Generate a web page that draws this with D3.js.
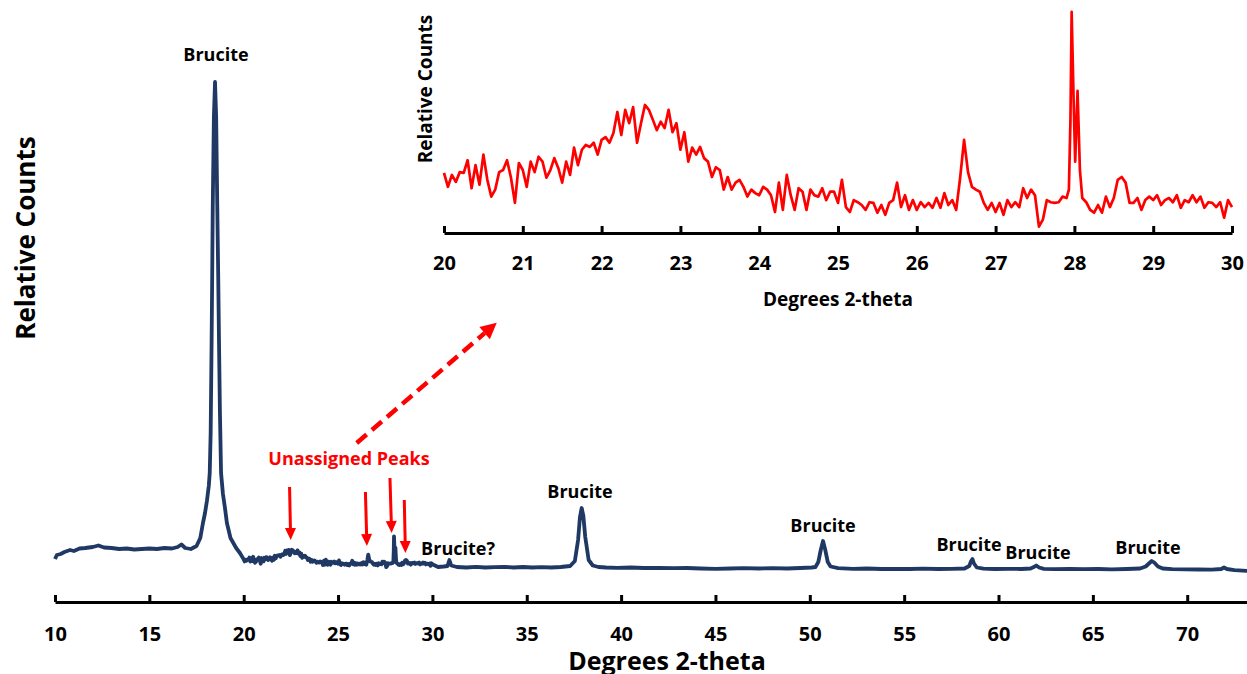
<!DOCTYPE html>
<html>
<head>
<meta charset="utf-8">
<script src="https://cdn.jsdelivr.net/npm/d3@7"></script>
<style>
  body { margin: 0; background: #fff; }
  text { font-family: "Open Sans", sans-serif; font-weight: bold; }
</style>
</head>
<body>
<svg id="chart"></svg>
<script>
// tick labels
const xTicks = [10, 15, 20, 25, 30, 35, 40, 45, 50, 55, 60, 65, 70];
const insetTicks = [20, 21, 22, 23, 24, 25, 26, 27, 28, 29, 30];

// scan below 20 deg: [2-theta, counts]
const scanLow = [
  [10.0, 430], [10.1, 470], [10.3, 480], [10.5, 500], [10.8, 520], [11.0, 510], [11.3, 535],
  [11.6, 540], [12.0, 550], [12.3, 565], [12.6, 545], [13.0, 540], [13.4, 530], [13.8, 535],
  [14.2, 525], [14.6, 530], [15.0, 535], [15.4, 530], [15.8, 540], [16.2, 535], [16.5, 550],
  [16.7, 575], [16.9, 540], [17.2, 530], [17.5, 560], [17.7, 640], [17.84, 790], [17.95, 890],
  [18.05, 1010], [18.15, 1160], [18.2, 1290], [18.25, 1700], [18.3, 2620], [18.33, 3250],
  [18.36, 3950], [18.42, 4850], [18.48, 5200], [18.54, 4850], [18.6, 3950], [18.65, 3250],
  [18.69, 2620], [18.74, 1900], [18.8, 1290], [18.9, 1080], [19.0, 950], [19.11, 790],
  [19.3, 640], [19.6, 540], [19.8, 490]
];

// 20-30 deg, also shown in the inset
const scanDetail = [
  [20.00, 426], [20.05, 406], [20.10, 423], [20.15, 413], [20.20, 427], [20.25, 426], [20.30, 444],
  [20.35, 404], [20.40, 437], [20.45, 409], [20.50, 452], [20.55, 416], [20.60, 392], [20.65, 402],
  [20.70, 427], [20.75, 430], [20.80, 444], [20.85, 419], [20.90, 383], [20.95, 440], [21.00, 430],
  [21.05, 406], [21.10, 442], [21.15, 427], [21.20, 449], [21.25, 442], [21.30, 419], [21.35, 430],
  [21.40, 447], [21.45, 433], [21.50, 412], [21.55, 442], [21.60, 423], [21.65, 462], [21.70, 437],
  [21.75, 459], [21.80, 466], [21.85, 463], [21.90, 469], [21.95, 452], [22.00, 473], [22.05, 477],
  [22.10, 469], [22.15, 483], [22.20, 513], [22.25, 480], [22.30, 516], [22.35, 497], [22.40, 520],
  [22.45, 469], [22.50, 497], [22.55, 523], [22.60, 516], [22.65, 502], [22.70, 487], [22.75, 499],
  [22.80, 490], [22.85, 516], [22.90, 484], [22.95, 497], [23.00, 459], [23.05, 484], [23.10, 442],
  [23.15, 462], [23.20, 452], [23.25, 463], [23.30, 447], [23.35, 442], [23.40, 420], [23.45, 434],
  [23.50, 430], [23.55, 402], [23.60, 420], [23.65, 402], [23.70, 412], [23.75, 416], [23.80, 406],
  [23.85, 392], [23.90, 402], [23.95, 397], [24.00, 394], [24.05, 406], [24.10, 402], [24.15, 394],
  [24.20, 370], [24.25, 412], [24.30, 373], [24.35, 423], [24.40, 394], [24.45, 373], [24.50, 404],
  [24.55, 399], [24.60, 373], [24.65, 402], [24.70, 394], [24.75, 392], [24.80, 404], [24.85, 387],
  [24.90, 399], [24.95, 399], [25.00, 383], [25.05, 416], [25.10, 377], [25.15, 370], [25.20, 387],
  [25.25, 384], [25.30, 380], [25.35, 373], [25.40, 384], [25.45, 383], [25.50, 369], [25.55, 380],
  [25.60, 366], [25.65, 383], [25.70, 387], [25.75, 412], [25.80, 377], [25.85, 394], [25.90, 373],
  [25.95, 387], [26.00, 373], [26.05, 384], [26.10, 377], [26.15, 383], [26.20, 376], [26.25, 390],
  [26.30, 376], [26.35, 397], [26.40, 380], [26.45, 387], [26.50, 373], [26.55, 419], [26.60, 473],
  [26.65, 427], [26.70, 406], [26.75, 402], [26.80, 399], [26.85, 383], [26.90, 373], [26.95, 383],
  [27.00, 370], [27.05, 383], [27.10, 366], [27.15, 387], [27.20, 377], [27.25, 384], [27.30, 377],
  [27.35, 404], [27.40, 390], [27.45, 402], [27.50, 394], [27.55, 349], [27.60, 359], [27.65, 387],
  [27.70, 384], [27.75, 383], [27.80, 384], [27.85, 392], [27.90, 390], [27.93, 402], [27.95, 502],
  [27.965, 656], [27.99, 530], [28.01, 442], [28.04, 543], [28.07, 430], [28.10, 390], [28.15, 384],
  [28.20, 373], [28.25, 369], [28.30, 380], [28.35, 369], [28.40, 392], [28.45, 377], [28.50, 390],
  [28.55, 416], [28.60, 420], [28.65, 412], [28.70, 383], [28.75, 383], [28.80, 390], [28.85, 373],
  [28.90, 387], [28.95, 392], [29.00, 387], [29.05, 394], [29.10, 380], [29.15, 387], [29.20, 390],
  [29.25, 384], [29.30, 394], [29.35, 376], [29.40, 387], [29.45, 384], [29.50, 394], [29.55, 384],
  [29.60, 392], [29.65, 376], [29.70, 384], [29.75, 383], [29.80, 377], [29.85, 384], [29.90, 362],
  [29.95, 387], [30.00, 377]
];

// scan above 30 deg
const scanHigh = [
  [30.3, 350], [30.6, 355], [30.8, 360], [30.9, 420], [31.0, 365], [31.3, 350], [31.8, 345],
  [32.3, 352], [32.8, 345], [33.3, 348], [33.8, 352], [34.3, 345], [34.8, 350], [35.3, 345],
  [35.8, 348], [36.3, 345], [36.8, 350], [37.3, 360], [37.55, 410], [37.72, 620], [37.82, 850],
  [37.91, 940], [38.0, 860], [38.1, 650], [38.28, 420], [38.5, 365], [38.8, 350], [39.2, 345],
  [39.8, 342], [40.5, 345], [41.2, 340], [42.0, 342], [42.8, 338], [43.5, 340], [44.2, 335],
  [45.0, 332], [45.8, 335], [46.5, 338], [47.3, 335], [48.0, 338], [48.8, 335], [49.5, 340],
  [50.1, 345], [50.3, 350], [50.45, 400], [50.58, 520], [50.7, 610], [50.82, 520], [50.95, 400],
  [51.1, 355], [51.5, 338], [52.3, 332], [53.0, 335], [53.8, 330], [54.5, 332], [55.3, 330],
  [56.0, 333], [56.8, 330], [57.5, 332], [58.2, 335], [58.45, 360], [58.55, 410], [58.62, 430],
  [58.7, 385], [58.85, 345], [59.2, 333], [59.8, 330], [60.5, 332], [61.2, 330], [61.7, 335],
  [61.9, 352], [62.0, 365], [62.15, 345], [62.4, 332], [63.0, 328], [63.8, 330], [64.5, 328],
  [65.3, 330], [66.0, 327], [66.8, 330], [67.5, 335], [67.8, 355], [68.0, 390], [68.12, 410],
  [68.25, 395], [68.45, 355], [68.7, 335], [69.2, 328], [69.9, 326], [70.6, 325], [71.3, 323],
  [71.8, 330], [71.95, 345], [72.1, 330], [72.5, 318], [73.2, 310]
];

// peak labels
const labelText = ['Brucite', 'Brucite?', 'Brucite', 'Brucite', 'Brucite', 'Brucite', 'Brucite'];
const labelTheta = [18.53, 31.36, 37.82, 50.70, 58.44, 62.09, 67.92];
const labelCounts = [5410, 470, 1040, 700, 510, 430, 480];

// red arrows at the unassigned peaks: [theta, counts]
const arrowTail = [[22.43, 1150], [26.45, 1100], [27.75, 1240], [28.51, 1020]];
const arrowTip = [[22.49, 620], [26.53, 560], [27.84, 690], [28.57, 490]];

const W = 1247, H = 674;
const svg = d3.select('#chart').attr('width', W).attr('height', H);

const x = d3.scaleLinear().domain([10, 73.2]).range([55, 1247.6]);
const y = d3.scaleLinear().domain([0, 5200]).range([602, 82]);
const xi = d3.scaleLinear().domain([20, 30]).range([444, 1232]);
const yi = d3.scaleLinear().domain([340, 673]).range([233, 0]);

// main pattern
const line = d3.line().x(d => x(d[0])).y(d => y(d[1]));
svg.append('path')
  .datum(scanLow.concat(scanDetail, scanHigh))
  .attr('d', line)
  .attr('fill', 'none')
  .attr('stroke', '#1f3864')
  .attr('stroke-width', 3.8)
  .attr('stroke-linejoin', 'round');

// main x axis, ticks pointing up
const gx = svg.append('g')
  .attr('transform', 'translate(0,602)')
  .call(d3.axisBottom(x).tickValues(xTicks).tickSizeInner(-7).tickSizeOuter(0));
gx.select('.domain').attr('stroke', '#000').attr('stroke-width', 3);
gx.selectAll('.tick line').attr('stroke', '#000').attr('stroke-width', 3);
gx.selectAll('.tick text')
  .attr('y', 39).attr('dy', null)
  .attr('fill', '#000')
  .style('font-size', '20px');

svg.append('text')
  .attr('x', 667).attr('y', 670)
  .attr('text-anchor', 'middle')
  .style('font-size', '25px')
  .text('Degrees 2-theta');

svg.append('text')
  .attr('transform', 'translate(35,238) rotate(-90)')
  .attr('text-anchor', 'middle')
  .style('font-size', '26px')
  .text('Relative Counts');

// labels
svg.selectAll('.peak-label')
  .data(labelText)
  .join('text')
  .attr('class', 'peak-label')
  .attr('x', (d, i) => x(labelTheta[i]))
  .attr('y', (d, i) => y(labelCounts[i]))
  .attr('text-anchor', 'middle')
  .style('font-size', '18px')
  .text(d => d);

svg.append('text')
  .attr('x', x(25.58)).attr('y', y(1370))
  .attr('text-anchor', 'middle')
  .attr('fill', '#ff0000')
  .style('font-size', '18px')
  .text('Unassigned Peaks');

function arrow(x1, y1, x2, y2, len, half, width, dash) {
  const a = Math.atan2(y2 - y1, x2 - x1);
  const bx = x2 - len * Math.cos(a), by = y2 - len * Math.sin(a);
  svg.append('line')
    .attr('x1', x1).attr('y1', y1).attr('x2', bx).attr('y2', by)
    .attr('stroke', '#ff0000').attr('stroke-width', width)
    .attr('stroke-dasharray', dash);
  const px = -Math.sin(a) * half, py = Math.cos(a) * half;
  svg.append('path')
    .attr('d', `M${x2},${y2}L${bx + px},${by + py}L${bx - px},${by - py}Z`)
    .attr('fill', '#ff0000');
}

arrowTail.forEach((t, i) => {
  const p = arrowTip[i];
  arrow(x(t[0]), y(t[1]), x(p[0]), y(p[1]), 12, 5.5, 3, null);
});

// dashed arrow pointing to the inset
arrow(x(25.99), y(1590), x(33.41), y(2793), 16, 8, 4.5, '13,7');

// inset
const insetLine = d3.line().x(d => xi(d[0])).y(d => yi(d[1]));
svg.append('path')
  .datum(scanDetail)
  .attr('d', insetLine)
  .attr('fill', 'none')
  .attr('stroke', '#ff0000')
  .attr('stroke-width', 2.7)
  .attr('stroke-linejoin', 'round');

const gi = svg.append('g')
  .attr('transform', 'translate(0,233)')
  .call(d3.axisBottom(xi).tickValues(insetTicks).tickSizeInner(-7).tickSizeOuter(0));
gi.select('.domain').attr('stroke', '#000').attr('stroke-width', 3);
gi.selectAll('.tick line').attr('stroke', '#000').attr('stroke-width', 3);
gi.selectAll('.tick text')
  .attr('y', 37).attr('dy', null)
  .attr('fill', '#000')
  .style('font-size', '20px');

svg.append('text')
  .attr('x', 838).attr('y', 306)
  .attr('text-anchor', 'middle')
  .style('font-size', '19px')
  .text('Degrees 2-theta');

svg.append('text')
  .attr('transform', 'translate(432,89) rotate(-90)')
  .attr('text-anchor', 'middle')
  .style('font-size', '19px')
  .text('Relative Counts');
</script>
</body>
</html>
